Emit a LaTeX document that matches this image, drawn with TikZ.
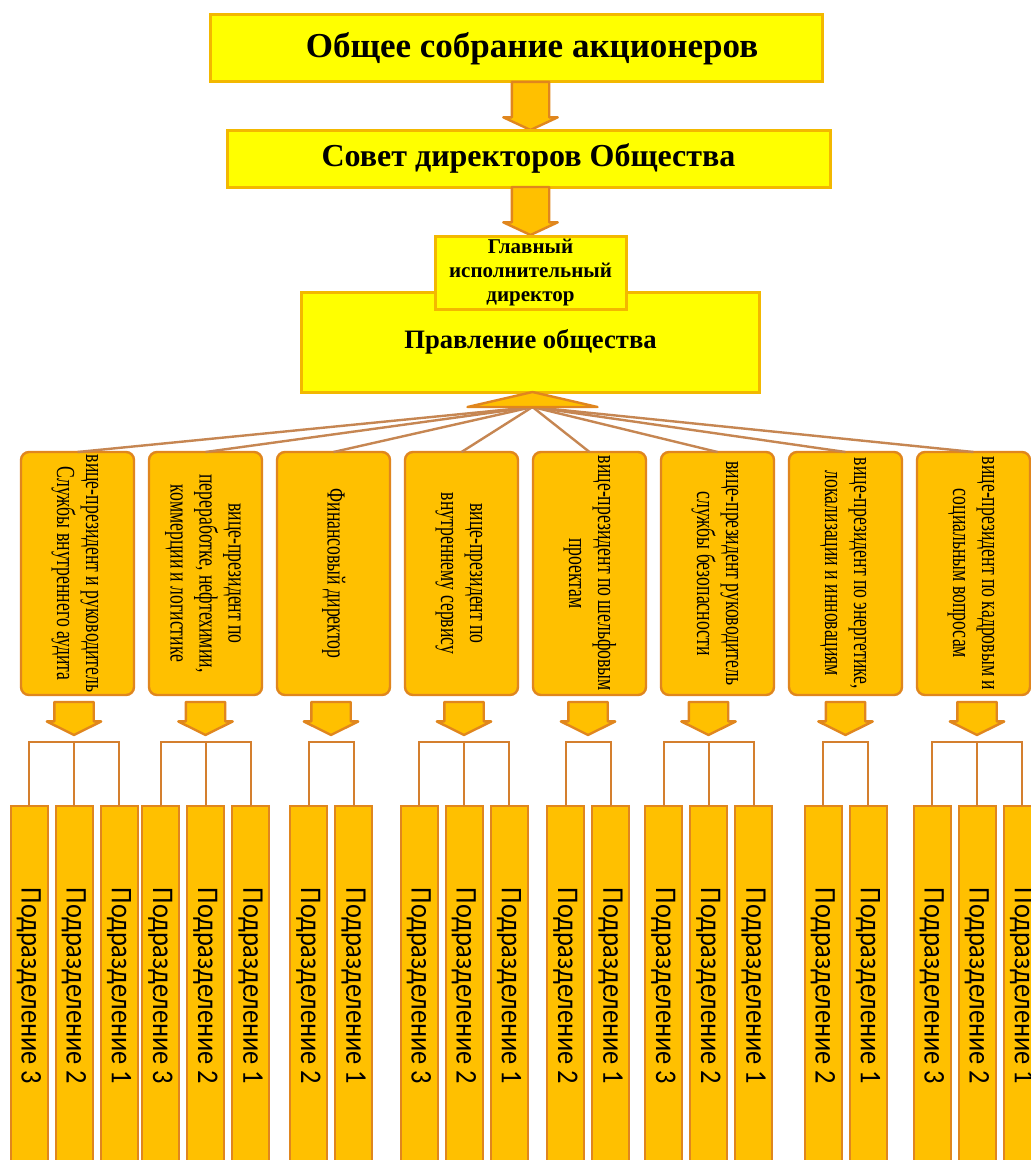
\documentclass[tikz,border=0pt]{standalone}
\usepackage{fontspec}
\setmainfont{Liberation Serif}
\newfontfamily\unitfont{Carlito}
\usepackage{graphicx}
\usetikzlibrary{arrows.meta,positioning,calc,shapes.arrows}
\definecolor{boxyellow}{HTML}{FFFF00}
\definecolor{boxgold}{HTML}{F3B800}
\definecolor{amber}{HTML}{FFC000}
\definecolor{amberline}{HTML}{E0861E}
\definecolor{fanbrown}{HTML}{C68652}
\definecolor{brkorange}{HTML}{D47F2E}
\newcommand{\vptext}[1]{\rotatebox{-90}{\scalebox{0.68}[1]{\begin{tabular}{@{}c@{}}#1\end{tabular}}}}
\newcommand{\dept}[1]{\rotatebox{-90}{\unitfont\scalebox{0.88}[1]{Подразделение #1}}}

\begin{document}
\begin{tikzpicture}[x=0.5pt, y=-0.5pt,
  topbox/.style={draw=boxgold, fill=boxyellow, line width=1.5pt, inner sep=0pt, outer sep=0pt, align=center, font=\bfseries},
  vpbox/.style={draw=amberline, fill=amber, line width=1.2pt, rounded corners=4pt, inner sep=0pt, outer sep=0pt,
    minimum width=56.5pt, minimum height=121.5pt, font=\fontsize{13}{14.5}\selectfont},
  deptbox/.style={draw=amberline, fill=amber, line width=1pt, inner sep=0pt, outer sep=0pt,
    minimum width=18.5pt, minimum height=180pt, font=\fontsize{15}{18}\selectfont},
  bigarr/.style={single arrow, shape border rotate=270, draw=amberline, fill=amber, line width=1.2pt, line join=round,
    inner xsep=8.75pt, inner ysep=0pt, outer sep=0pt, minimum width=26pt, minimum height=24pt,
    single arrow head extend=4.25pt, single arrow tip angle=130},
  smallarr/.style={bigarr, inner xsep=9.25pt, minimum height=16.5pt, single arrow head extend=3.75pt, single arrow tip angle=127},
  fan/.style={draw=fanbrown, line width=1.2pt},
  brk/.style={draw=brkorange, line width=1pt}]
\useasboundingbox (0,0) rectangle (1030,1160);
\fill[white] (0,0) rectangle (1030,1160);

% top of the chart
\node[topbox, minimum width=306pt, minimum height=33.5pt, font=\bfseries\fontsize{17.5}{20}\selectfont] (agm) at (516,48.5) {\hspace*{16pt}Общее собрание акционеров};
\node[bigarr, below=0pt of agm, xshift=7.25pt] (a1) {};
\node[topbox, minimum width=301.5pt, minimum height=28.5pt, font=\bfseries\fontsize{16}{19}\selectfont, below=0pt of a1, xshift=-1pt] (board) {Совет директоров Общества};
\node[bigarr, below=0pt of board, xshift=1pt] (a2) {};
\node[topbox, minimum width=229pt, minimum height=50pt, font=\bfseries\fontsize{13.3}{16}\selectfont, below=28.5pt of a2] (mgmt) {Правление общества};
\node[topbox, minimum width=95.5pt, minimum height=36.5pt, font=\bfseries\fontsize{10.5}{12}\selectfont, above=-8.5pt of mgmt] (ceo) {Главный\\исполнительный\\директор};

% vice-presidents
\node[vpbox] (vp1) at (77.5,573.5) {\vptext{вице-президент и руководитель\\Службы внутреннего аудита}};
\node[vpbox, right=7.5pt of vp1] (vp2) {\vptext{вице-президент по\\переработке, нефтехимии,\\коммерции и логистике}};
\node[vpbox, right=7.5pt of vp2] (vp3) {\vptext{Финансовый директор}};
\node[vpbox, right=7.5pt of vp3] (vp4) {\vptext{вице-президент по\\внутреннему сервису}};
\node[vpbox, right=7.5pt of vp4] (vp5) {\vptext{вице-президент по шельфовым\\проектам}};
\node[vpbox, right=7.5pt of vp5] (vp6) {\vptext{вице-президент руководитель\\службы безопасности}};
\node[vpbox, right=7.5pt of vp6] (vp7) {\vptext{вице-президент по энергетике,\\локализации и инновациям}};
\node[vpbox, right=7.5pt of vp7] (vp8) {\vptext{вице-президент по кадровым и\\социальным вопросам}};

\coordinate (hub) at ($(mgmt.south)+(2,15)$);
\draw[fan] (hub)--(vp1.north); \draw[fan] (hub)--(vp2.north); \draw[fan] (hub)--(vp3.north); \draw[fan] (hub)--(vp4.north);
\draw[fan] (hub)--(vp5.north); \draw[fan] (hub)--(vp6.north); \draw[fan] (hub)--(vp7.north); \draw[fan] (hub)--(vp8.north);
\draw[fill=amber, draw=amberline, line width=1.2pt, line join=round] (hub) ++(-65,0) -- ++(65,-15) -- ++(65,15) -- cycle;

% arrows down to the departments
\node[smallarr, below=3.5pt of vp1, xshift=-1.75pt] (d1) {};
\node[smallarr, below=3.5pt of vp2] (d2) {};
\node[smallarr, below=3.5pt of vp3, xshift=-1.25pt] (d3) {};
\node[smallarr, below=3.5pt of vp4, xshift=1.25pt] (d4) {};
\node[smallarr, below=3.5pt of vp5, xshift=-0.75pt] (d5) {};
\node[smallarr, below=3.5pt of vp6, xshift=-4.5pt] (d6) {};
\node[smallarr, below=3.5pt of vp7] (d7) {};
\node[smallarr, below=3.5pt of vp8, xshift=1.75pt] (d8) {};

% departments
\node[deptbox, below=35.5pt of d1] (s12) {\dept{2}};
\node[deptbox, left=4pt of s12] (s13) {\dept{3}};
\node[deptbox, right=4pt of s12] (s11) {\dept{1}};
\node[deptbox, below=35.5pt of d2] (s22) {\dept{2}};
\node[deptbox, left=4pt of s22] (s23) {\dept{3}};
\node[deptbox, right=4pt of s22] (s21) {\dept{1}};
\node[deptbox, below=35.5pt of d3, xshift=11.25pt] (s31) {\dept{1}};
\node[deptbox, left=4pt of s31] (s32) {\dept{2}};
\node[deptbox, below=35.5pt of d4] (s42) {\dept{2}};
\node[deptbox, left=4pt of s42] (s43) {\dept{3}};
\node[deptbox, right=4pt of s42] (s41) {\dept{1}};
\node[deptbox, below=35.5pt of d5, xshift=11.25pt] (s51) {\dept{1}};
\node[deptbox, left=4pt of s51] (s52) {\dept{2}};
\node[deptbox, below=35.5pt of d6] (s62) {\dept{2}};
\node[deptbox, left=4pt of s62] (s63) {\dept{3}};
\node[deptbox, right=4pt of s62] (s61) {\dept{1}};
\node[deptbox, below=35.5pt of d7, xshift=11.25pt] (s71) {\dept{1}};
\node[deptbox, left=4pt of s71] (s72) {\dept{2}};
\node[deptbox, below=35.5pt of d8] (s82) {\dept{2}};
\node[deptbox, left=4pt of s82] (s83) {\dept{3}};
\node[deptbox, right=4pt of s82] (s81) {\dept{1}};

\draw[brk] (s13.north) -- ++(0,-64) -| (s11.north); \draw[brk] (s12.north) -- ++(0,-64);
\draw[brk] (s23.north) -- ++(0,-64) -| (s21.north); \draw[brk] (s22.north) -- ++(0,-64);
\draw[brk] (s32.north) -- ++(0,-64) -| (s31.north);
\draw[brk] (s43.north) -- ++(0,-64) -| (s41.north); \draw[brk] (s42.north) -- ++(0,-64);
\draw[brk] (s52.north) -- ++(0,-64) -| (s51.north);
\draw[brk] (s63.north) -- ++(0,-64) -| (s61.north); \draw[brk] (s62.north) -- ++(0,-64);
\draw[brk] (s72.north) -- ++(0,-64) -| (s71.north);
\draw[brk] (s83.north) -- ++(0,-64) -| (s81.north); \draw[brk] (s82.north) -- ++(0,-64);
\end{tikzpicture}
\end{document}
